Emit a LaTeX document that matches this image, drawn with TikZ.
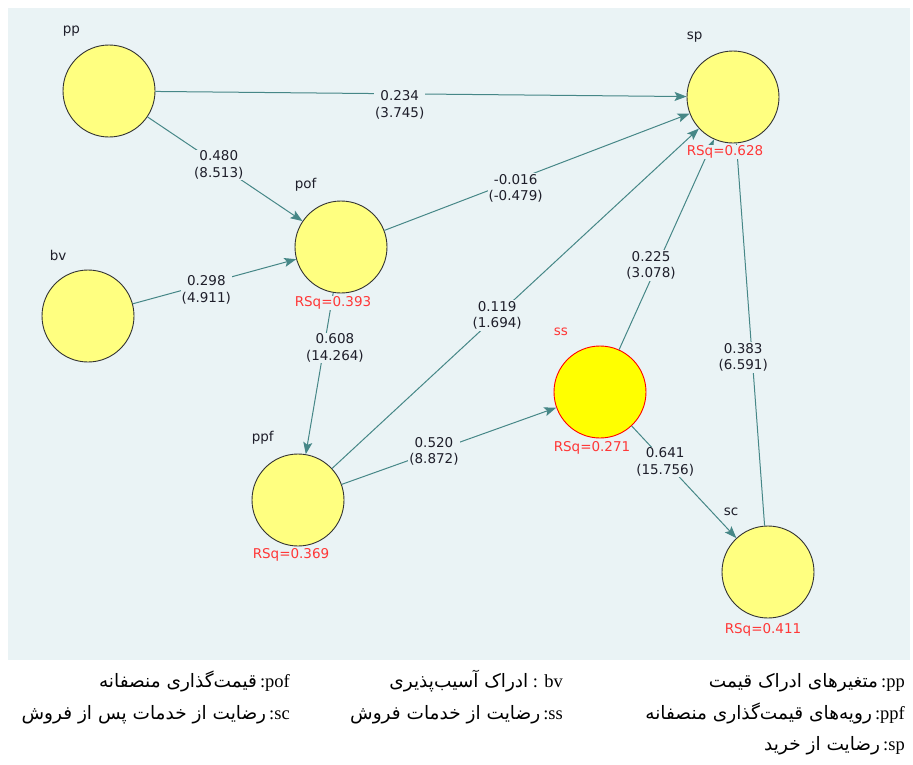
\documentclass[tikz,border=0pt]{standalone}
\usepackage{fontspec}
\usepackage{tikz}
\usetikzlibrary{arrows.meta, calc, positioning}
\TeXXeTstate=1
\newfontfamily\diagfont{DejaVu Sans}
\newfontfamily\fafont[Script=Arabic]{DejaVu Sans}
\newfontfamily\lafont{Liberation Serif}
\definecolor{bg}{RGB}{234, 243, 245}
\definecolor{y1}{RGB}{255, 255, 128}
\definecolor{y2}{RGB}{255, 255, 0}
\definecolor{t1}{RGB}{70, 135, 135}
\definecolor{r1}{RGB}{255, 55, 55}
\definecolor{g}{HTML}{333333}
\definecolor{b}{HTML}{1e1e2a}

\begin{document}
\begin{tikzpicture}[x=1pt, y=-1pt,
    lv/.style={circle, draw=g, fill=y1, line width=0.9pt, minimum size=92pt, inner sep=0pt},
    link/.style={draw=t1, line width=1pt, -{Stealth[length=12pt, width=9pt, inset=2.5pt]}},
    coef/.style={fill=bg, inner sep=1pt, align=center, text=b,
        font=\diagfont\fontsize{13.5}{16.5}\selectfont},
    rsq/.style={fill=bg, inner sep=1pt, text=r1, font=\diagfont\fontsize{13.5}{16}\selectfont},
    vname/.style={anchor=base west, inner sep=0pt, text=b, font=\diagfont\fontsize{13.5}{16}\selectfont},
    legend/.style={anchor=base east, inner sep=0pt, font=\fontsize{18.5}{22}\selectfont}]
    \useasboundingbox (0,0) rectangle (913,764);
    % Canvas
    \fill[bg] (8,8) rectangle (910,660);

    % Latent variables
    \node[lv] (pp) at (109,91) {};
    \node[lv] (sp) at (733,97) {};
    \node[lv] (pof) at (341,247) {};
    \node[lv] (bv) at (88,316) {};
    \node[lv] (ppf) at (298,500) {};
    \node[lv, fill=y2, draw=red] (ss) at (600,392) {};
    \node[lv] (sc) at (768,572) {};

    % Names
    \node[vname] at ($(pp.west)+(0,-58)$) {pp};
    \node[vname] at ($(sp.west)+(0,-58)$) {sp};
    \node[vname] at ($(pof.west)+(0,-59)$) {pof};
    \node[vname] at ($(bv.west)+(8,-56)$) {bv};
    \node[vname] at ($(ppf.west)+(0,-59)$) {ppf};
    \node[vname, text=r1] at ($(ss.west)+(0,-57)$) {ss};
    \node[vname] at ($(sc.west)+(2,-57)$) {sc};

    % Path coefficients
    \draw[link] (pp) -- node[coef, pos=0.46, yshift=-11pt] {0.234\\(3.745)} (sp);
    \draw[link] (pp) -- node[coef, pos=0.46] {0.480\\(8.513)} (pof);
    \draw[link] (bv) -- node[coef, pos=0.45, yshift=-6pt] {0.298\\(4.911)} (pof);
    \draw[link] (pof) -- node[coef, pos=0.43, yshift=-8pt] {-0.016\\(-0.479)} (sp);
    \draw[link] (pof) -- node[coef, pos=0.34, xshift=11pt] {0.608\\(14.264)} (ppf);
    \draw[link] (ppf) -- node[coef, pos=0.45] {0.119\\(1.694)} (sp);
    \draw[link] (ppf) -- node[coef, pos=0.43] {0.520\\(8.872)} (ss);
    \draw[link] (ss) -- node[coef, pos=0.40, xshift=-6pt] {0.225\\(3.078)} (sp);
    \draw[link] (ss) -- node[coef, pos=0.32] {0.641\\(15.756)} (sc);
    \draw[link] (sc) -- node[coef, pos=0.44, xshift=-9pt] {0.383\\(6.591)} (sp);

    % R squared
    \node[rsq] at ($(sp)+(-8,55)$) {RSq=0.628};
    \node[rsq] at ($(pof)+(-8,56)$) {RSq=0.393};
    \node[rsq] at ($(ppf)+(-7,55)$) {RSq=0.369};
    \node[rsq] at ($(ss)+(-8,56)$) {RSq=0.271};
    \node[rsq] at ($(sc)+(-5,58)$) {RSq=0.411};

    % Legend
    \node[legend] at (905,687) {{\fafont\beginR متغیرهای ادراک قیمت\endR}{\lafont\,:pp}};
    \node[legend] at (563,687) {{\fafont\beginR ادراک آسیب‌پذیری\endR}{\lafont\ : bv}};
    \node[legend] at (290,687) {{\fafont\beginR قیمت‌گذاری منصفانه\endR}{\lafont\,:pof}};
    \node[legend] at (905,719) {{\fafont\beginR رویه‌های قیمت‌گذاری منصفانه\endR}{\lafont\,:ppf}};
    \node[legend] at (563,719) {{\fafont\beginR رضایت از خدمات فروش\endR}{\lafont\,:ss}};
    \node[legend] at (290,719) {{\fafont\beginR رضایت از خدمات پس از فروش\endR}{\lafont\,:sc}};
    \node[legend] at (905,750) {{\fafont\beginR رضایت از خرید\endR}{\lafont\,:sp}};
\end{tikzpicture}
\end{document}
